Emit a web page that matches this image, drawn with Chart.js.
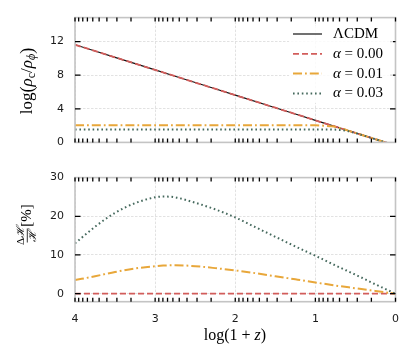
<!DOCTYPE html>
<html>
<head>
<meta charset="utf-8">
<script src="https://cdn.jsdelivr.net/npm/chart.js@4.4.1/dist/chart.umd.min.js"></script>
<style>
  html, body { margin: 0; padding: 0; background: #fff; }
  #wrap { position: relative; width: 415px; height: 363px; }
  canvas { position: absolute; left: 0; }
  #top { top: 0; }
  #bot { top: 160px; }
</style>
</head>
<body>
<div id="wrap">
  <canvas id="top" width="415" height="160" style="width:415px;height:160px"></canvas>
  <canvas id="bot" width="415" height="203" style="width:415px;height:203px"></canvas>
</div>
<script>
// Data. x is log(1+z), the axis runs from 4 down to 0.
const labels = ['ΛCDM', 'α = 0.00', 'α = 0.01', 'α = 0.03'];

// top panel: log(rho_c / rho_phi)
const xRho = [4, 3.5, 3, 2.5, 2, 1.5, 1, 0.9, 0.8, 0.7, 0.6, 0.5, 0.4, 0.3, 0.2, 0.1, 0];
const rhoLcdm = [11.63, 10.13, 8.63, 7.13, 5.63, 4.13, 2.63, 2.33, 2.03, 1.73, 1.43, 1.13, 0.83, 0.53, 0.23, -0.07, -0.37];
const rhoA000 = [11.63, 10.13, 8.63, 7.13, 5.63, 4.13, 2.63, 2.33, 2.03, 1.73, 1.43, 1.13, 0.83, 0.53, 0.23, -0.07, -0.37];
const rhoA001 = [2.05, 2.05, 2.05, 2.05, 2.05, 2.05, 2.03, 1.99, 1.91, 1.73, 1.43, 1.13, 0.83, 0.53, 0.23, -0.07, -0.37];
const rhoA003 = [1.55, 1.55, 1.55, 1.55, 1.55, 1.55, 1.55, 1.55, 1.54, 1.49, 1.36, 1.1, 0.82, 0.53, 0.23, -0.07, -0.37];

// bottom panel: Delta H / H in percent
const xH = [4, 3.75, 3.5, 3.25, 3, 2.9, 2.75, 2.5, 2.25, 2, 1.75, 1.5, 1.25, 1, 0.75, 0.5, 0.25, 0];
const dhA000 = [0, 0, 0, 0, 0, 0, 0, 0, 0, 0, 0, 0, 0, 0, 0, 0, 0, 0];
const dhA001 = [3.5, 4.5, 5.6, 6.5, 7.1, 7.25, 7.35, 7.1, 6.6, 6.0, 5.3, 4.5, 3.7, 2.9, 2.1, 1.4, 0.7, 0];
const dhA003 = [13.0, 17.3, 20.9, 23.4, 24.9, 25.1, 24.9, 23.5, 21.8, 19.7, 17.2, 14.7, 12.2, 9.8, 7.3, 4.9, 2.4, 0];

const xMajor = [0, 1, 2, 3, 4];
const yTicksTop = [0, 4, 8, 12];
const yTicksBot = [0, 10, 20, 30];

const SERIF = "'Liberation Serif', 'DejaVu Serif', serif";
const SANS = "'DejaVu Sans', sans-serif";

const styles = [
  { color: '#111111', width: 1.2, dash: [] },
  { color: '#d25d5b', width: 1.8, dash: [6, 3] },
  { color: '#e8a73a', width: 2, dash: [9, 3, 1.8, 3] },
  { color: '#45695d', width: 2, dash: [1.6, 2.8] }
];

const pts = (xs, ys) => xs.map((x, i) => ({ x, y: ys[i] }));

function line(idx, data) {
  const s = styles[idx];
  return {
    label: labels[idx],
    data,
    borderColor: s.color,
    backgroundColor: s.color,
    borderWidth: s.width,
    borderDash: s.dash,
    pointRadius: 0,
    cubicInterpolationMode: 'monotone',
    order: 4 - idx
  };
}

// minor ticks of a log axis, positions in decades
const xMinor = [];
for (let d = 0; d < 4; d++) {
  for (let k = 2; k <= 9; k++) xMinor.push(d + Math.log10(k));
}

// draw a row of text runs: [text, size, italic, dy]
function drawRuns(ctx, runs, x, y, align) {
  const fontOf = r => `${r[2] ? 'italic ' : ''}${r[1]}px ${SERIF}`;
  let w = 0;
  runs.forEach(r => { ctx.font = fontOf(r); w += ctx.measureText(r[0]).width; });
  let cx = align === 'center' ? x - w / 2 : x;
  ctx.textAlign = 'left';
  ctx.textBaseline = 'middle';
  runs.forEach(r => {
    ctx.font = fontOf(r);
    ctx.fillText(r[0], cx, y + (r[3] || 0));
    cx += ctx.measureText(r[0]).width;
  });
}

const frameTicks = {
  id: 'frameTicks',
  afterDatasetsDraw(chart, args, opts) {
    const { ctx, chartArea: a, scales } = chart;
    ctx.save();
    ctx.strokeStyle = '#c4c4c4';
    ctx.lineWidth = 1.6;
    ctx.strokeRect(a.left, a.top, a.right - a.left, a.bottom - a.top);

    ctx.strokeStyle = '#000';
    ctx.lineWidth = 1.3;
    ctx.beginPath();
    xMajor.concat(xMinor).forEach(v => {
      const px = scales.x.getPixelForValue(v);
      ctx.moveTo(px, a.top); ctx.lineTo(px, a.top + 4);
      ctx.moveTo(px, a.bottom); ctx.lineTo(px, a.bottom - 4);
    });
    opts.yTicks.forEach(v => {
      const py = scales.y.getPixelForValue(v);
      ctx.moveTo(a.left, py); ctx.lineTo(a.left + 5.5, py);
      ctx.moveTo(a.right, py); ctx.lineTo(a.right - 5.5, py);
    });
    ctx.stroke();
    ctx.restore();
  }
};

const texts = {
  id: 'texts',
  afterDraw(chart, args, opts) {
    const { ctx } = chart;
    ctx.save();
    ctx.fillStyle = '#000';
    if (opts.panel === 'top') {
      // legend
      ctx.fillStyle = 'rgba(255,255,255,0.85)';
      ctx.fillRect(289, 26, 104, 77);
      chart.data.datasets.forEach((ds, i) => {
        const y = 34 + i * 19.8;
        ctx.strokeStyle = ds.borderColor;
        ctx.lineWidth = ds.borderWidth;
        ctx.setLineDash(ds.borderDash);
        ctx.beginPath();
        ctx.moveTo(293, y); ctx.lineTo(322, y);
        ctx.stroke();
        ctx.setLineDash([]);
        ctx.fillStyle = '#000';
        const t = ds.label;
        const runs = t.startsWith('α')
          ? [['α', 15, true], [t.slice(1), 15, false]]
          : [[t, 15, false]];
        drawRuns(ctx, runs, 333, y, 'left');
      });
      // y title
      ctx.translate(28, 81);
      ctx.rotate(-Math.PI / 2);
      drawRuns(ctx, [
        ['log', 17, false], ['(', 18, false], ['ρ', 17, true], ['c', 12, false, 4],
        ['/', 17, false], ['ρ', 17, true], ['ϕ', 12, true, 4], [')', 18, false]
      ], 0, 0, 'center');
    } else {
      // x title
      drawRuns(ctx, [['log(1 + ', 16, false], ['z', 16, true], [')', 16, false]], 235, 176, 'center');
      // y title: fraction then [%]
      ctx.translate(27, 65.5);
      ctx.rotate(-Math.PI / 2);
      drawRuns(ctx, [['Δ', 11, false], ['ℋ', 11, true]], -10, -5.5, 'center');
      drawRuns(ctx, [['ℋ', 11, true]], -10, 6, 'center');
      ctx.strokeStyle = '#000';
      ctx.lineWidth = 0.8;
      ctx.beginPath();
      ctx.moveTo(-17, 0.3); ctx.lineTo(-3, 0.3);
      ctx.stroke();
      drawRuns(ctx, [['[%]', 15, false]], 10, 0, 'center');
    }
    ctx.restore();
  }
};

function axes(yMin, yMax, yTicks, showX, xHeight) {
  return {
    x: {
      type: 'linear',
      min: 0,
      max: 4,
      reverse: true,
      afterBuildTicks: s => { s.ticks = xMajor.map(v => ({ value: v })); },
      afterFit: s => { s.height = xHeight; },
      grid: { color: '#d6d6d6', lineWidth: 0.7, drawTicks: false },
      border: { display: false, dash: [2.5, 1.5] },
      ticks: {
        display: showX,
        padding: 11,
        color: '#1a1a1a',
        font: { family: SANS, size: 11 },
        callback: v => String(v)
      }
    },
    y: {
      type: 'linear',
      min: yMin,
      max: yMax,
      afterBuildTicks: s => { s.ticks = yTicks.map(v => ({ value: v })); },
      afterFit: s => { s.width = 75; },
      grid: { color: '#d6d6d6', lineWidth: 0.7, drawTicks: false },
      border: { display: false, dash: [2.5, 1.5] },
      ticks: {
        padding: 11,
        color: '#1a1a1a',
        font: { family: SANS, size: 11 },
        callback: v => String(v)
      }
    }
  };
}

const common = {
  responsive: false,
  animation: false,
  events: [],
  plugins: { legend: { display: false }, tooltip: { enabled: false } }
};

new Chart(document.getElementById('top'), {
  type: 'line',
  plugins: [frameTicks, texts],
  data: {
    datasets: [
      line(0, pts(xRho, rhoLcdm)),
      line(1, pts(xRho, rhoA000)),
      line(2, pts(xRho, rhoA001)),
      line(3, pts(xRho, rhoA003))
    ]
  },
  options: {
    ...common,
    layout: { padding: { top: 15.7, right: 19.5, bottom: 0, left: 0 } },
    scales: axes(0, 14.86, yTicksTop, false, 14.3),
    plugins: {
      ...common.plugins,
      frameTicks: { yTicks: [4, 8, 12] },
      texts: { panel: 'top' }
    }
  }
});

new Chart(document.getElementById('bot'), {
  type: 'line',
  plugins: [frameTicks, texts],
  data: {
    datasets: [
      line(1, pts(xH, dhA000)),
      line(2, pts(xH, dhA001)),
      line(3, pts(xH, dhA003))
    ]
  },
  options: {
    ...common,
    layout: { padding: { top: 12.7, right: 19.5, bottom: 0, left: 0 } },
    scales: axes(-2.08, 30, yTicksBot, true, 61.3),
    plugins: {
      ...common.plugins,
      frameTicks: { yTicks: [0, 10, 20] },
      texts: { panel: 'bot' }
    }
  }
});
</script>
</body>
</html>
